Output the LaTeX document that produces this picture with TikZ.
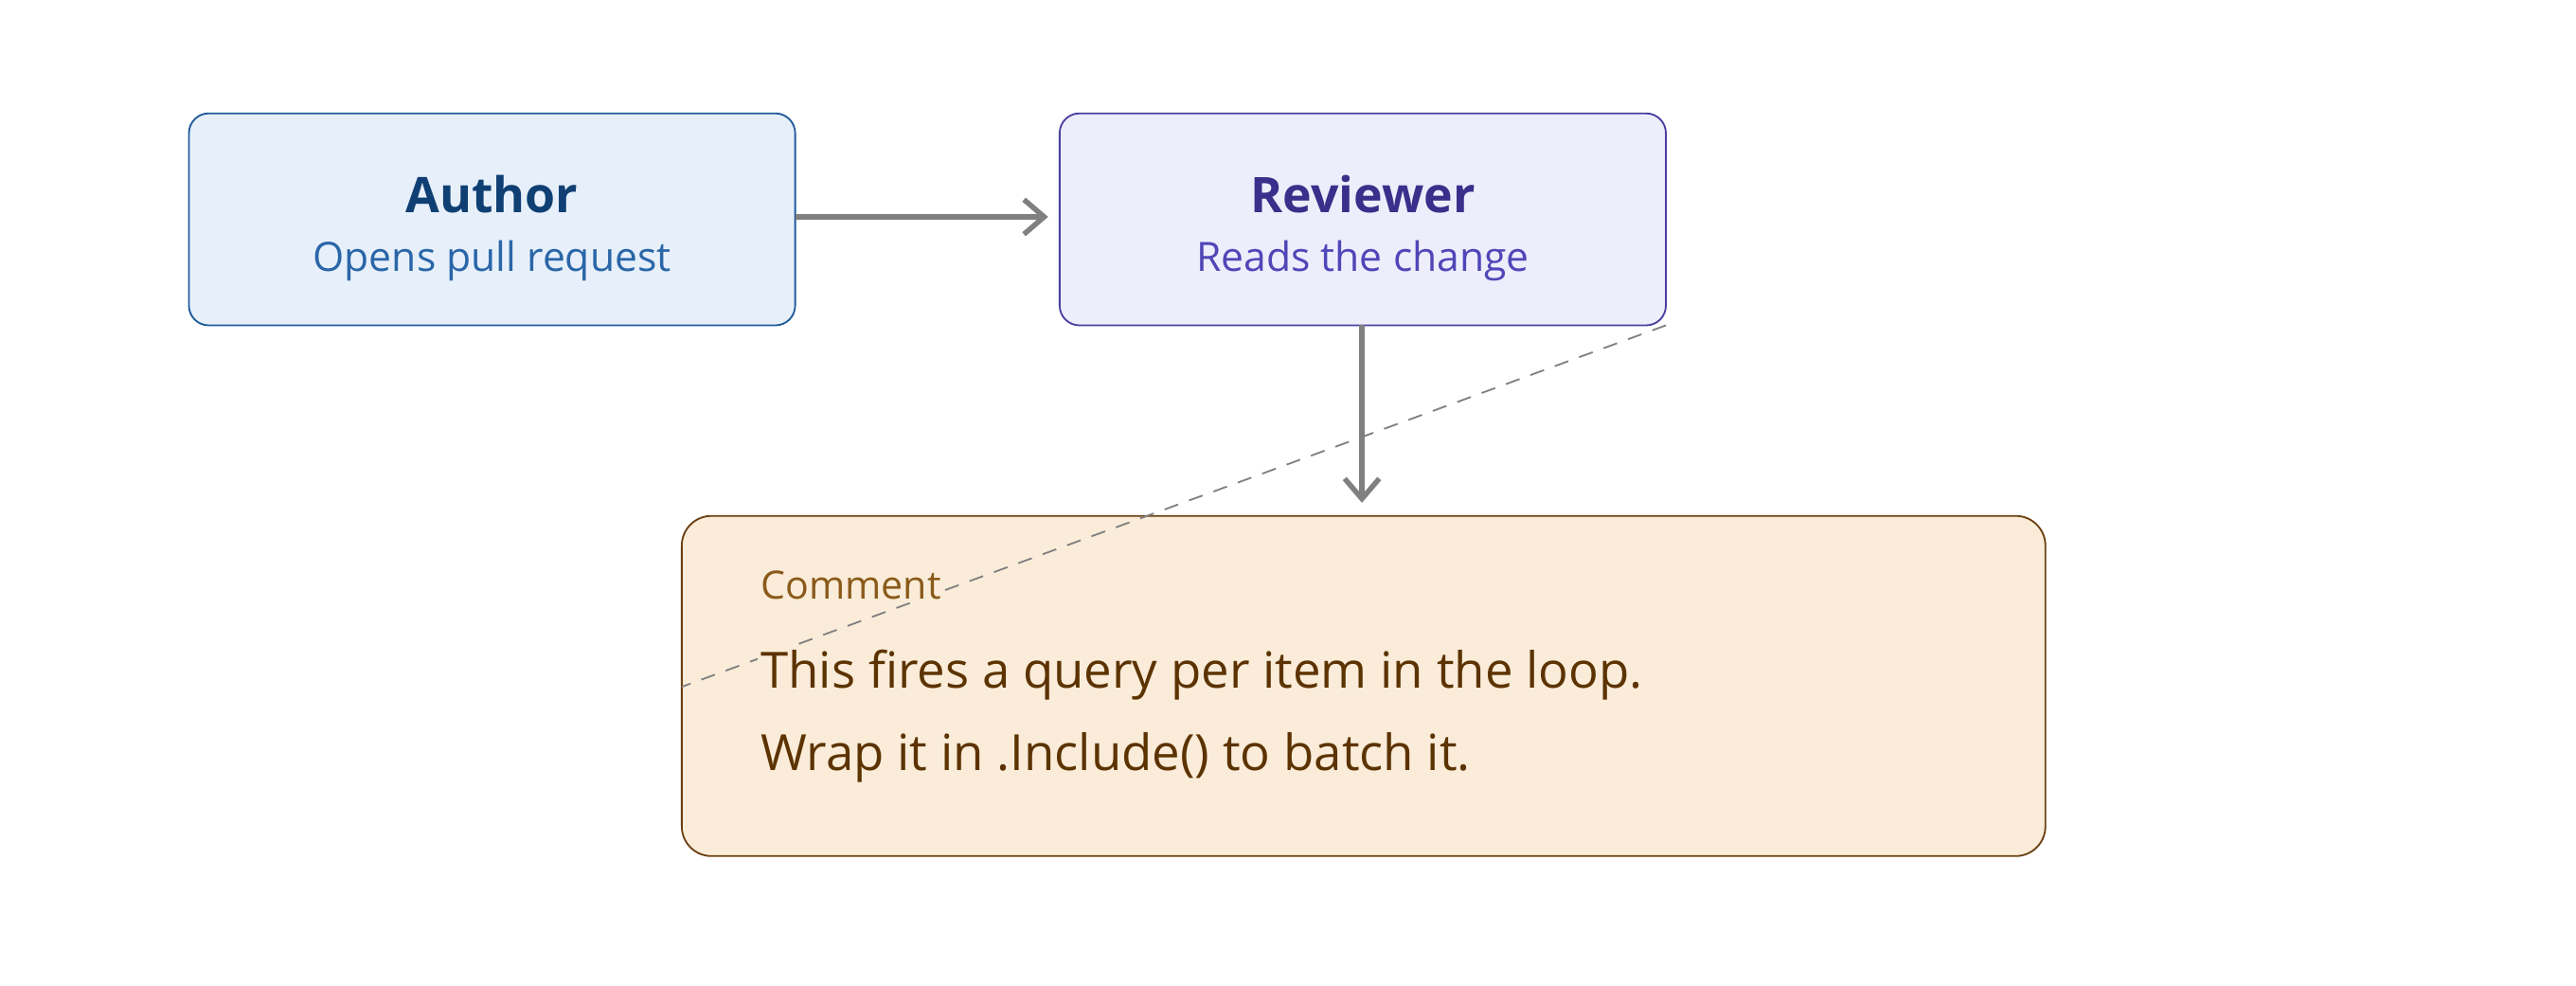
\documentclass[tikz,border=0pt]{standalone}
\usepackage{fontspec}
\setmainfont{Open Sans}
\usetikzlibrary{arrows.meta}
\definecolor{aFill}{HTML}{E7F0FA}\definecolor{aLine}{HTML}{1F5A9A}
\definecolor{aT}{HTML}{0F3F73}\definecolor{aS}{HTML}{2A66A8}
\definecolor{rFill}{HTML}{EEEDFB}\definecolor{rLine}{HTML}{4A3FA0}
\definecolor{rT}{HTML}{3A2F8A}\definecolor{rS}{HTML}{5046B8}
\definecolor{cFill}{HTML}{FAECD9}\definecolor{cLine}{HTML}{6B4012}
\definecolor{cL}{HTML}{8A5A1A}\definecolor{cT}{HTML}{5C3300}
\definecolor{conn}{HTML}{808080}
\begin{document}
\begin{tikzpicture}[x=0.02cm,y=-0.02cm,
  box/.style={draw,rounded corners=12*0.02cm,line width=0.6pt},
  arr/.style={draw=conn,line width=1.8pt,-{Straight Barb[length=7pt,width=12pt]}}]
\useasboundingbox (0,0) rectangle (1568,600);
\path[box,fill=aFill,draw=aLine] (115,69) rectangle (484,198);
\node[text=aT,font=\bfseries\fontsize{17}{20}\selectfont] (at) at (299.5,118) {Author};
\node[text=aS,font=\fontsize{14}{16}\selectfont] (as) at (299.5,159) {Opens pull request};
\path[box,fill=rFill,draw=rLine] (645,69) rectangle (1014,198);
\node[text=rT,font=\bfseries\fontsize{17}{20}\selectfont] (rt) at (829.5,118) {Reviewer};
\node[text=rS,font=\fontsize{14}{16}\selectfont] (rs) at (829.5,159) {Reads the change};
\path[box,fill=cFill,draw=cLine,rounded corners=18*0.02cm] (415,314) rectangle (1245,521);
\coordinate (a1) at (484,132); \coordinate (r1) at (638,132);
\coordinate (r2) at (829,198); \coordinate (c0) at (829,306);
\coordinate (d1) at (1014,198); \coordinate (d2) at (415,418);
\draw[conn,line width=0.6pt,dash pattern=on 5pt off 4pt] (d1) -- (d2);
\node[text=cL,fill=cFill,font=\fontsize{13.5}{16}\selectfont,anchor=west,inner sep=1pt] (cl) at (461,356) {Comment};
\node[text=cT,fill=cFill,font=\fontsize{17.3}{20}\selectfont,anchor=west,inner sep=1pt] (c1) at (461,411) {This fires a query per item in the loop.};
\node[text=cT,font=\fontsize{17.3}{20}\selectfont,anchor=west,inner sep=1pt] (c2) at (461,461) {Wrap it in .Include() to batch it.};
\draw[arr] (a1) -- (r1);
\draw[arr] (r2) -- (c0);
\end{tikzpicture}
\end{document}
